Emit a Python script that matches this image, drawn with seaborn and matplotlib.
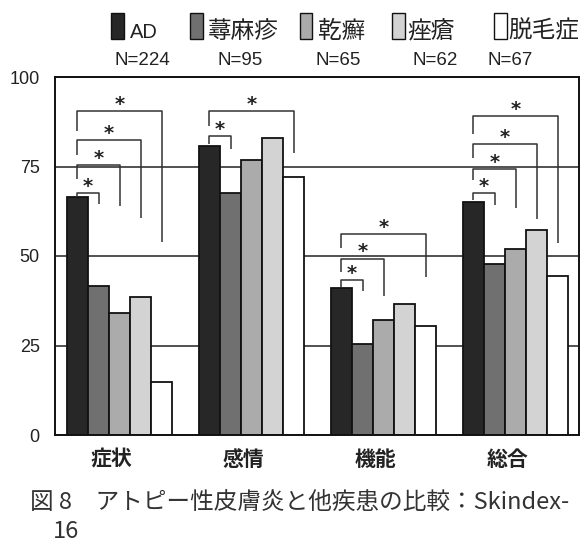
import numpy as np
import pandas as pd
import matplotlib
matplotlib.use("Agg")
import matplotlib.pyplot as plt
from matplotlib.patches import Rectangle
from matplotlib.transforms import ScaledTranslation
import seaborn as sns

# Skindex-16 subscale scores by disease
categories = ["症状", "感情", "機能", "総合"]
diseases = ["AD", "蕁麻疹", "乾癬", "痤瘡", "脱毛症"]
sample_sizes = ["N=224", "N=95", "N=65", "N=62", "N=67"]
score_ad = [66.4, 80.8, 41.0, 65.1]
score_urticaria = [41.6, 67.5, 25.5, 47.9]
score_psoriasis = [34.2, 76.7, 32.2, 51.9]
score_acne = [38.5, 83.1, 36.7, 57.4]
score_alopecia = [14.8, 72.1, 30.5, 44.3]
y_ticks = [0, 25, 50, 75, 100]

# significant differences versus AD: (subscale index, compared disease index)
sig_pairs = [(0, 1), (0, 2), (0, 3), (0, 4),
             (1, 1), (1, 4),
             (2, 1), (2, 2), (2, 4),
             (3, 1), (3, 2), (3, 3), (3, 4)]

# bracket geometry in score units: (bar top, left leg end, right leg end)
bracket_geom = [(67.7, 66.6, 64.6), (75.3, 71.4, 64.0), (82.3, 78.3, 60.7), (90.5, 85.0, 54.0),
                (83.4, 81.2, 80.0), (90.5, 86.4, 78.8),
                (43.3, 41.4, 40.3), (49.3, 45.5, 38.7), (56.1, 52.1, 44.1),
                (67.7, 65.6, 64.3), (74.3, 71.3, 63.3), (81.2, 77.3, 60.2), (89.0, 84.2, 53.5)]

palette = ["#272727", "#707070", "#ababab", "#d3d3d3", "#ffffff"]

sns.set_theme(style="white")
plt.rcParams["font.family"] = ["Liberation Sans", "Noto Sans CJK JP", "DejaVu Sans"]

df = pd.DataFrame({
    "category": categories * len(diseases),
    "disease": np.repeat(diseases, len(categories)),
    "score": score_ad + score_urticaria + score_psoriasis + score_acne + score_alopecia,
})

W, H = 582, 546
fig = plt.figure(figsize=(W / 100, H / 100), dpi=100)
ax = fig.add_axes([55 / W, 1 - 435 / H, (579 - 55) / W, (435 - 77) / H])

sns.barplot(data=df, x="category", y="score", hue="disease",
            order=categories, hue_order=diseases, palette=palette,
            saturation=1, edgecolor="#111111", linewidth=1.3, width=0.8,
            errorbar=None, legend=False, ax=ax)

ax.set_axisbelow(True)
ax.yaxis.grid(True, color="#222222", linewidth=1.1)
ax.xaxis.grid(False)
ax.set_xlim(-0.49, 3.48)
ax.set_ylim(0, 100)
ax.set_yticks(y_ticks)
ax.set_xlabel("")
ax.set_ylabel("")
for sp in ax.spines.values():
    sp.set_visible(True)
    sp.set_color("#111111")
    sp.set_linewidth(1.4)

ax.tick_params(axis="y", length=0, pad=11, labelsize=13, labelcolor="#222222")
ax.tick_params(axis="x", length=0, pad=10)
shift = ScaledTranslation(-8 / 100, 0, fig.dpi_scale_trans)
for lbl in ax.get_xticklabels():
    lbl.set_fontfamily(["Noto Sans CJK JP", "DejaVu Sans"])
    lbl.set_fontweight("bold")
    lbl.set_fontsize(15)
    lbl.set_color("#222222")
    lbl.set_transform(lbl.get_transform() + shift)

# significance brackets between AD and the compared disease
centers = [[p.get_x() + p.get_width() / 2 for p in cont] for cont in ax.containers]
for (cat, tgt), (top, left_end, right_end) in zip(sig_pairs, bracket_geom):
    x0 = centers[0][cat]
    x1 = centers[tgt][cat]
    ax.plot([x0, x0, x1, x1], [left_end, top, top, right_end],
            color="#333333", linewidth=1.1, solid_capstyle="butt")
    ax.text((x0 + x1) / 2, top + 0.3, "*", ha="center", va="baseline",
            fontsize=14, fontweight="bold", color="#222222",
            family=["DejaVu Sans"])

# legend row with sample sizes underneath
patch_x = [111, 190, 300, 392, 494]
text_x = [130, 208, 318, 407, 508]
n_x = [142, 240, 338, 435, 510]
for name, color, px, tx, nx, n in zip(diseases, palette, patch_x, text_x, n_x, sample_sizes):
    fig.add_artist(Rectangle((px / W, 1 - 38.5 / H), 12.5 / W, 25.5 / H,
                             transform=fig.transFigure, facecolor=color,
                             edgecolor="#111111", linewidth=1.0))
    size = 14.5 if name.isascii() else 17
    fig.text(tx / W, 1 - 37.5 / H, name, fontsize=size, va="baseline", ha="left",
             color="#222222")
    fig.text(nx / W, 1 - 60 / H, n, fontsize=13.5, va="center", ha="center",
             color="#222222")

cap_font = ["Noto Sans CJK JP", "DejaVu Sans"]
fig.text(30 / W, 1 - 502 / H, "図 8　アトピー性皮膚炎と他疾患の比較：Skindex-",
         fontsize=17, va="center", ha="left", color="#333333", family=cap_font)
fig.text(53 / W, 1 - 531 / H, "16", fontsize=17, va="center", ha="left",
         color="#333333", family=cap_font)

fig.savefig("out.png", dpi=100)
